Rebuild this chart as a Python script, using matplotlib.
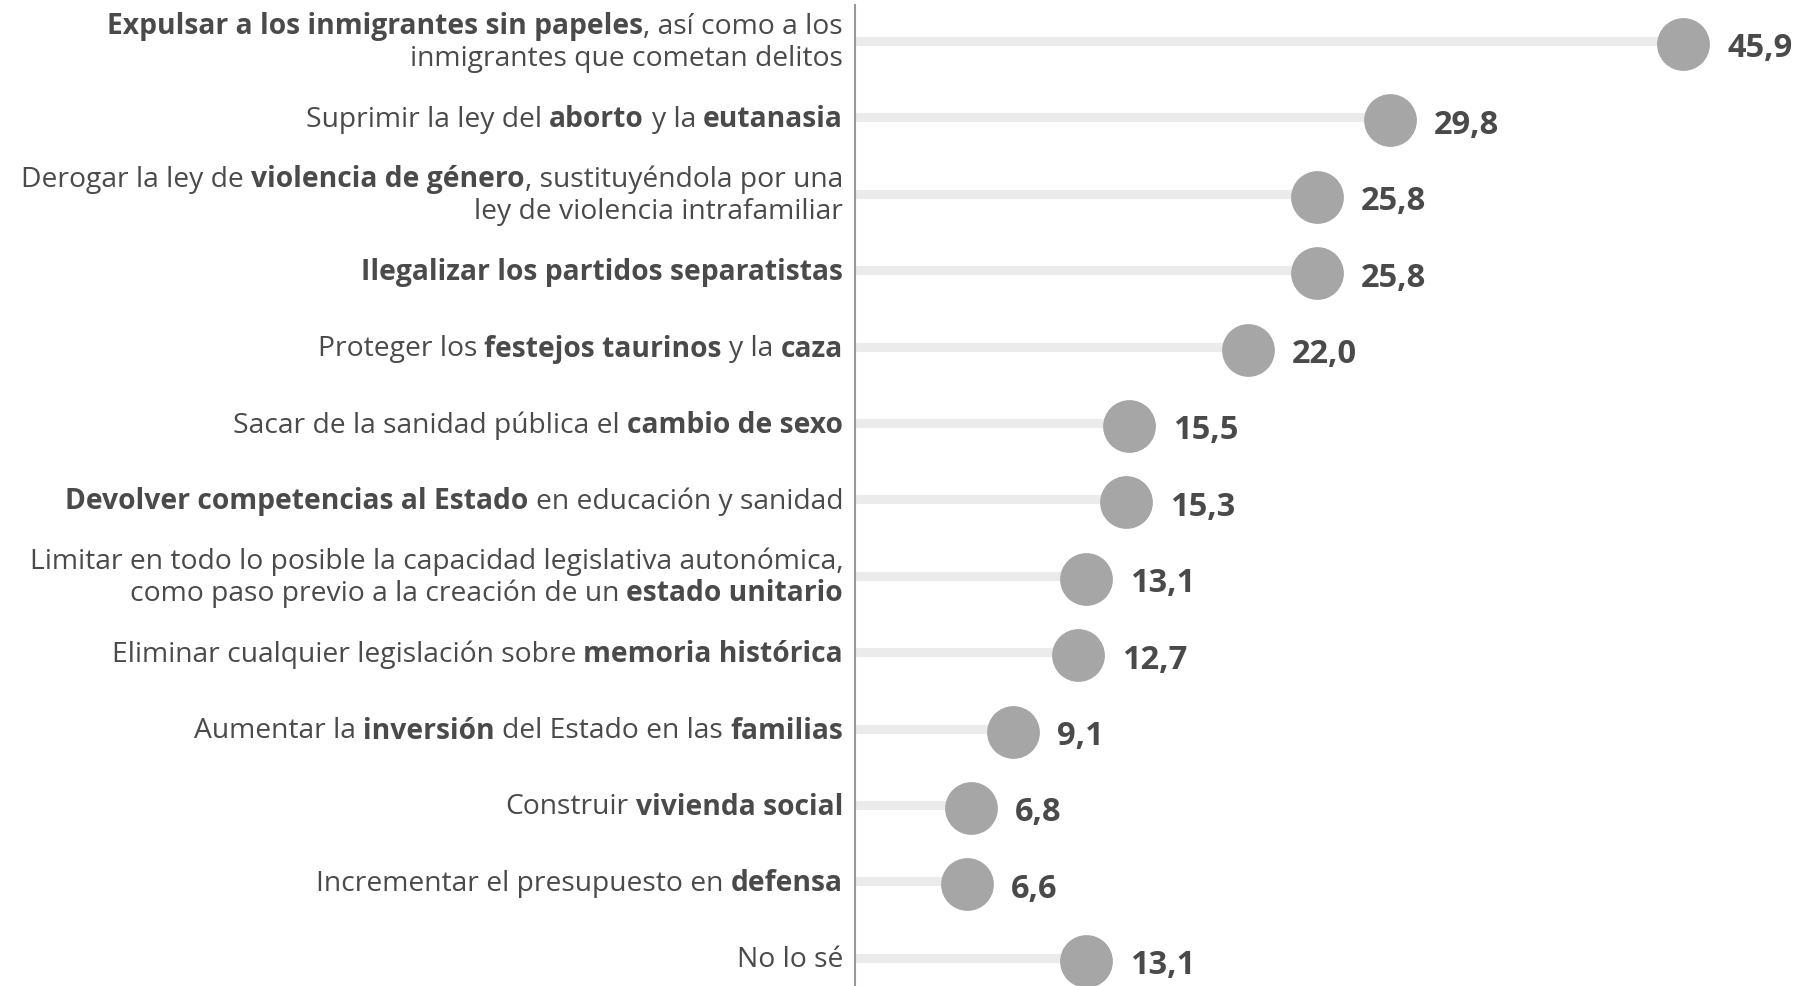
import matplotlib
matplotlib.use('Agg')
import matplotlib.pyplot as plt
import matplotlib.transforms as mtransforms

# labels use **...** for the bold parts, \n for a second line
labels = [
    "**Expulsar a los inmigrantes sin papeles**, así como a los\ninmigrantes que cometan delitos",
    "Suprimir la ley del **aborto** y la **eutanasia**",
    "Derogar la ley de **violencia de género**, sustituyéndola por una\nley de violencia intrafamiliar",
    "**Ilegalizar los partidos separatistas**",
    "Proteger los **festejos taurinos** y la **caza**",
    "Sacar de la sanidad pública el **cambio de sexo**",
    "**Devolver competencias al Estado** en educación y sanidad",
    "Limitar en todo lo posible la capacidad legislativa autonómica,\ncomo paso previo a la creación de un **estado unitario**",
    "Eliminar cualquier legislación sobre **memoria histórica**",
    "Aumentar la **inversión** del Estado en las **familias**",
    "Construir **vivienda social**",
    "Incrementar el presupuesto en **defensa**",
    "No lo sé",
]
values = [45.9, 29.8, 25.8, 25.8, 22.0, 15.5, 15.3, 13.1, 12.7, 9.1, 6.8, 6.6, 13.1]

FONT = 'Open Sans'
TXT = '#4a4a4a'
W, H = 1799, 987

fig = plt.figure(figsize=(W / 100, H / 100), dpi=100)
ax = fig.add_axes([855 / W, 0, (W - 855) / W, (H - 6) / H])
ax.set_xlim(0.44, 52.25)
ax.set_ylim(12.37, -0.471)
for s in ['top', 'right', 'bottom']:
    ax.spines[s].set_visible(False)
ax.spines['left'].set_color('#9a9a9a')
ax.spines['left'].set_linewidth(1.5)
ax.set_xticks([])
ax.set_yticks([])

rows = list(range(len(values)))
ax.hlines(rows, ax.get_xlim()[0], values, color='#ebebeb', linewidth=6.5,
          capstyle='butt', zorder=1)
# dots sit a touch below the stems
dot_tr = mtransforms.offset_copy(ax.transData, fig=fig, y=-3, units='dots')
ax.plot(values, rows, 'o', markersize=38, color='#a6a6a6', markeredgewidth=0,
        zorder=2, clip_on=False, transform=dot_tr)

fig.canvas.draw()
renderer = fig.canvas.get_renderer()
ident = mtransforms.IdentityTransform()


def text_width(s, weight, size):
    t = fig.text(0, 0, s, fontsize=size, fontweight=weight, family=FONT, transform=ident)
    w = t.get_window_extent(renderer).width
    t.remove()
    return w


LSIZE = 20.3
space = {w: text_width('a a', w, LSIZE) - text_width('aa', w, LSIZE) for w in ['normal', 'bold']}


def rich_line(x_right, y, line):
    parts = line.split('**')
    segs = [(p, 'bold' if i % 2 else 'normal') for i, p in enumerate(parts) if p]
    x = x_right
    for seg, weight in reversed(segs):
        trail = len(seg) - len(seg.rstrip(' '))
        lead = len(seg) - len(seg.lstrip(' '))
        x -= trail * space[weight]
        t = fig.text(x, y, seg.strip(' '), fontsize=LSIZE, fontweight=weight,
                     family=FONT, color=TXT, ha='right', va='center', transform=ident)
        x -= t.get_window_extent(renderer).width
        x -= lead * space[weight]


for i, (lab, v) in enumerate(zip(labels, values)):
    _, yc = ax.transData.transform((0, i))
    lines = lab.split('\n')
    if len(lines) == 1:
        rich_line(843, yc - 1.5, lines[0])
    else:
        rich_line(843, yc + 15, lines[0])
        rich_line(843, yc - 17, lines[1])
    xv, yv = ax.transData.transform((v, i))
    fig.text(xv + 44, yv - 7, f"{v:.1f}".replace('.', ','), fontsize=23.5,
             fontweight='bold', family=FONT, color=TXT, ha='left', va='center',
             transform=ident)

fig.savefig('out.png', dpi=100)
